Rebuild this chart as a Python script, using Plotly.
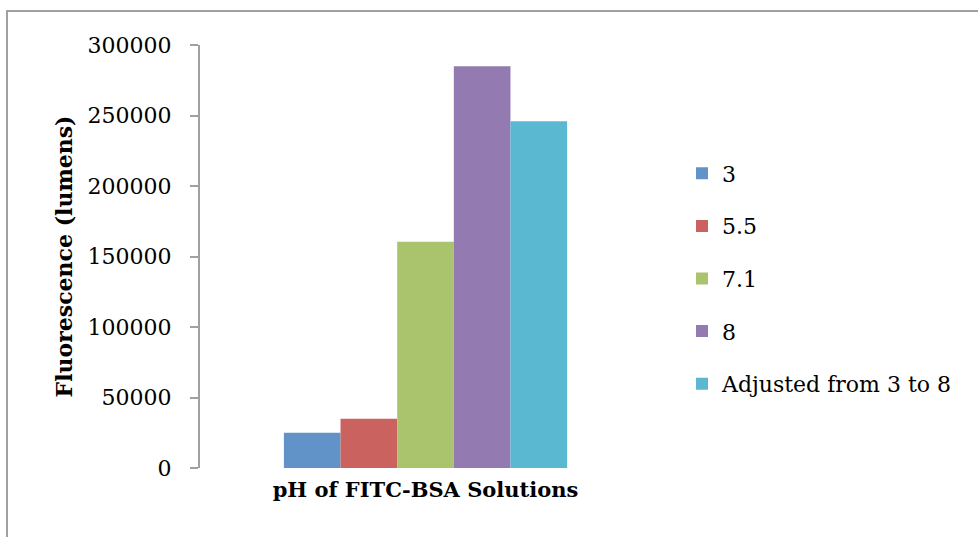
import plotly.graph_objects as go

category = ["pH of FITC-BSA Solutions"]
series_names = ["3", "5.5", "7.1", "8", "Adjusted from 3 to 8"]
series_values = [25000, 35000, 160500, 285000, 246000]
colors = ["#6193C8", "#CA635F", "#AAC46E", "#937AB1", "#5BB8D1"]

W, H = 978, 537
L, R, T, B = 200, 327, 45, 69
pw, ph = W - L - R, H - T - B

def px_x(x):
    return (x - L) / pw

def px_y(y):
    return (H - B - y) / ph

fig = go.Figure()
for name, val, col in zip(series_names, series_values, colors):
    fig.add_trace(go.Bar(x=category, y=[val], name=name, marker=dict(color=col, line=dict(width=0)),
                         legendgroup=name))

font_main = "DejaVu Serif"
fig.update_layout(
    width=W, height=H,
    margin=dict(l=L, r=R, t=T, b=B, autoexpand=False),
    paper_bgcolor="white", plot_bgcolor="white",
    barmode="group", bargap=0.372, bargroupgap=0,
    font=dict(family=font_main, size=22, color="#000000"),
    showlegend=True,
    legend=dict(x=px_x(682), xanchor="left", y=px_y(278.5), yanchor="middle",
                font=dict(family=font_main, size=22, color="#000000"),
                tracegroupgap=21, bgcolor="rgba(0,0,0,0)"),
    xaxis=dict(showline=False, ticks="", showgrid=False, zeroline=False,
               tickfont=dict(family=font_main, size=21, color="#000000", weight="bold"),
               ticklabelstandoff=7),
    yaxis=dict(range=[0, 300000], dtick=50000, tick0=0, showgrid=False, zeroline=False,
               showline=True, linecolor="#a0a0a0", linewidth=2,
               ticks="outside", ticklen=8, tickwidth=2, tickcolor="#a0a0a0",
               tickformat="d", ticklabelstandoff=14,
               tickfont=dict(family=font_main, size=22, color="#000000"),
               title=dict(text="Fluorescence (lumens)", standoff=9,
                          font=dict(family=font_main, size=22, color="#000000", weight="bold"))),
    shapes=[dict(type="rect", xref="paper", yref="paper",
                 x0=px_x(7), x1=px_x(1010), y0=px_y(570), y1=px_y(11),
                 line=dict(color="#a0a0a0", width=2), fillcolor="rgba(0,0,0,0)", layer="below")],
)

fig.write_html("out.html")
